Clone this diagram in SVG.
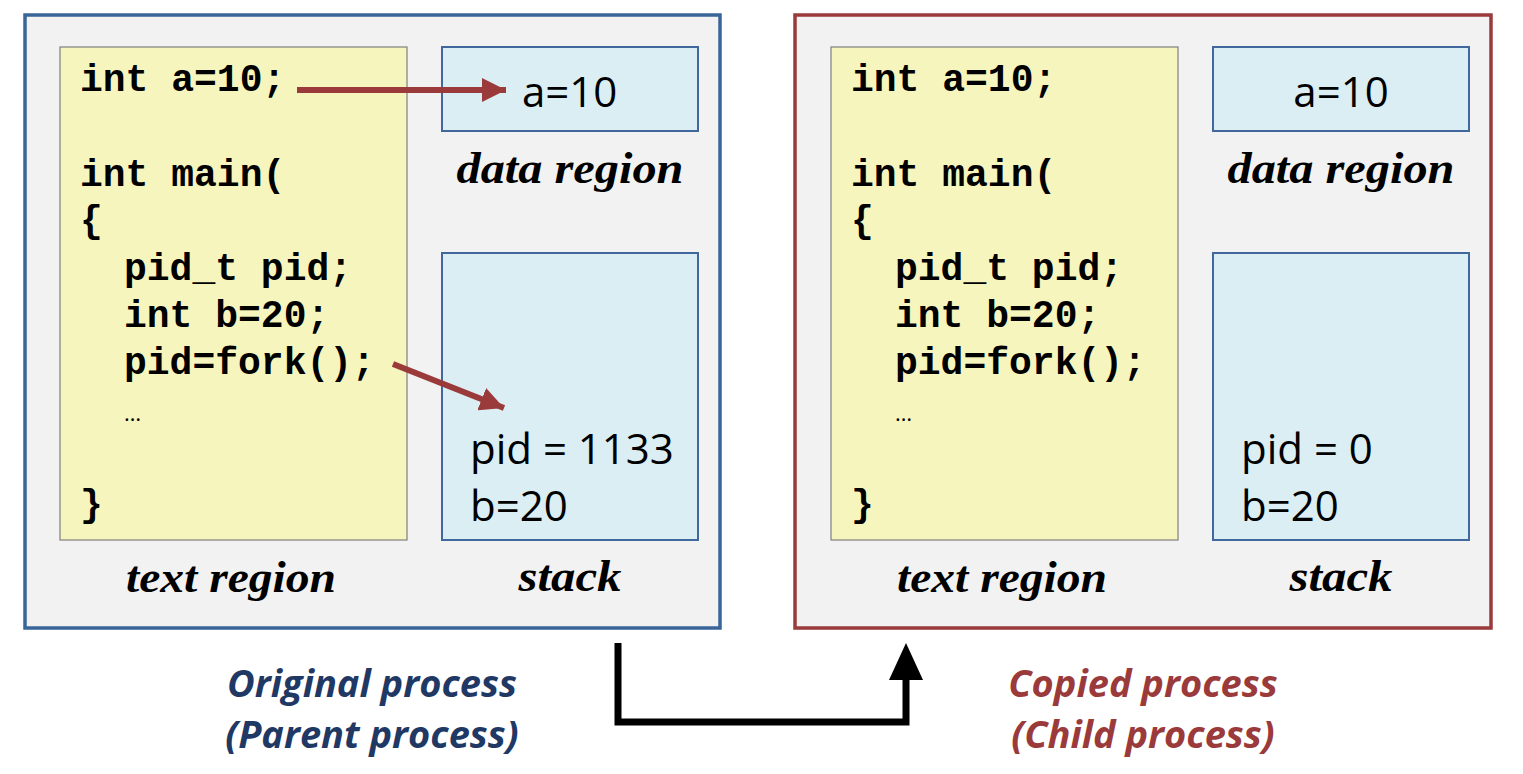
<svg xmlns="http://www.w3.org/2000/svg" width="1523" height="774" viewBox="0 0 1523 774">
<defs>
<style>
.outerL{fill:#F2F2F2;stroke:#3A6598;stroke-width:3.5}
.outerR{fill:#F2F2F2;stroke:#9B3A3A;stroke-width:3.5}
.code{fill:#F7F5BE;stroke:#7F7F7F;stroke-width:1.2}
.mem{fill:#DAEEF3;stroke:#41689C;stroke-width:2}
.c{font-family:"Liberation Mono","Courier New",monospace;font-weight:bold;font-size:38px;fill:#000}
.v{font-family:"Open Sans","Liberation Sans",sans-serif;font-size:42px;fill:#000}
.lab{font-family:"Liberation Serif","Times New Roman",serif;font-weight:bold;font-style:italic;font-size:44px;fill:#000;text-anchor:middle}
.cap{font-family:"Open Sans","Liberation Sans",sans-serif;font-weight:bold;font-style:italic;font-size:38px;text-anchor:middle}
.red{stroke:#9B3A3A;stroke-width:6;fill:none}
</style>
<marker id="ah" viewBox="0 0 10 10" refX="10" refY="5" markerWidth="4" markerHeight="4" markerUnits="strokeWidth" orient="auto">
<path d="M0,0 L10,5 L0,10 z" fill="#9B3A3A"/>
</marker>
</defs>

<g id="parent">
<rect class="outerL" x="25" y="15" width="695" height="613"/>
<g id="parent-text">
<rect class="code" x="60" y="47" width="347" height="493"/>
<text class="c" x="80" y="91">int a=10;</text>
<text class="c" x="80" y="186">int main(</text>
<text class="c" x="80" y="232">{</text>
<text class="c" x="124" y="280">pid_t pid;</text>
<text class="c" x="124" y="327">int b=20;</text>
<text class="c" x="124" y="374">pid=fork();</text>
<text class="v" x="124" y="421" style="font-size:22px">…</text>
<text class="c" x="80" y="516">}</text>
<text class="lab" x="231" y="592" textLength="210" lengthAdjust="spacingAndGlyphs">text region</text>
</g>
<g id="parent-data">
<rect class="mem" x="442" y="47" width="256" height="84"/>
<text class="v" x="522" y="107">a=10</text>
<text class="lab" x="570" y="183" textLength="227" lengthAdjust="spacingAndGlyphs">data region</text>
</g>
<g id="parent-stack">
<rect class="mem" x="442" y="253" width="256" height="287"/>
<text class="v" x="470" y="464">pid = 1133</text>
<text class="v" x="470" y="521">b=20</text>
<text class="lab" x="570" y="591" textLength="103" lengthAdjust="spacingAndGlyphs">stack</text>
</g>
</g>

<g id="child">
<rect class="outerR" x="795" y="15" width="696" height="613"/>
<g id="child-text">
<rect class="code" x="831" y="47" width="347" height="493"/>
<text class="c" x="851" y="91">int a=10;</text>
<text class="c" x="851" y="186">int main(</text>
<text class="c" x="851" y="232">{</text>
<text class="c" x="895" y="280">pid_t pid;</text>
<text class="c" x="895" y="327">int b=20;</text>
<text class="c" x="895" y="374">pid=fork();</text>
<text class="v" x="895" y="421" style="font-size:22px">…</text>
<text class="c" x="851" y="516">}</text>
<text class="lab" x="1002" y="592" textLength="210" lengthAdjust="spacingAndGlyphs">text region</text>
</g>
<g id="child-data">
<rect class="mem" x="1213" y="47" width="256" height="84"/>
<text class="v" x="1341" y="107" text-anchor="middle">a=10</text>
<text class="lab" x="1341" y="183" textLength="227" lengthAdjust="spacingAndGlyphs">data region</text>
</g>
<g id="child-stack">
<rect class="mem" x="1213" y="253" width="256" height="287"/>
<text class="v" x="1241" y="464">pid = 0</text>
<text class="v" x="1241" y="521">b=20</text>
<text class="lab" x="1341" y="591" textLength="103" lengthAdjust="spacingAndGlyphs">stack</text>
</g>
</g>

<g id="captions">
<text class="cap" x="372" y="697" fill="#1F3864">Original process</text>
<text class="cap" x="372" y="748" fill="#1F3864">(Parent process)</text>
<text class="cap" x="1143" y="697" fill="#9B3A3A">Copied process</text>
<text class="cap" x="1143" y="748" fill="#9B3A3A">(Child process)</text>
</g>

<g id="connectors">
<line class="red" x1="297" y1="90" x2="506" y2="90" marker-end="url(#ah)"/>
<line class="red" x1="393" y1="364" x2="504" y2="408" marker-end="url(#ah)"/>
<path d="M618,643 V722 H906 V678" fill="none" stroke="#000" stroke-width="7"/>
<path d="M889,680 L906,643 L923,680 z" fill="#000"/>
</g>
</svg>
